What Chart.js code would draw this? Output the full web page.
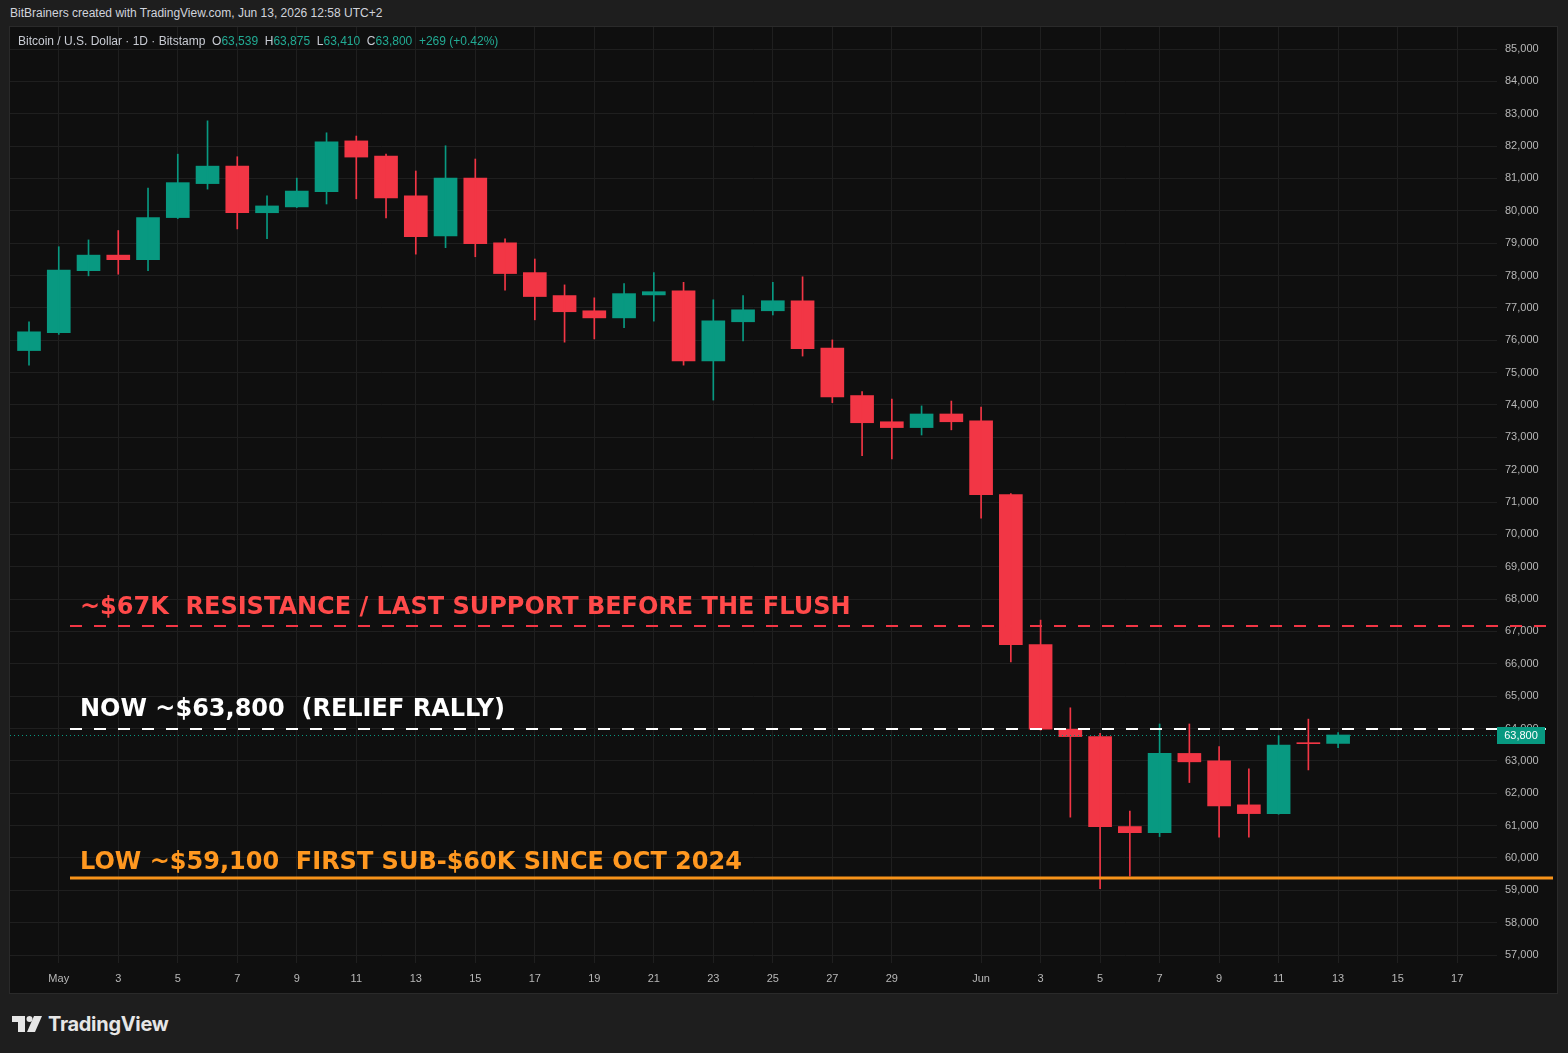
<!DOCTYPE html>
<html>
<head>
<meta charset="utf-8">
<title>BTC/USD 1D</title>
<script src="https://cdn.jsdelivr.net/npm/chart.js@4.4.1/dist/chart.umd.min.js"></script>
<style>
  html, body { margin: 0; padding: 0; background: #1e1e1e; }
  body { width: 1568px; height: 1053px; position: relative; overflow: hidden; font-family: "Liberation Sans", Arial, sans-serif; }
  #credit { position: absolute; left: 10px; top: 6px; font-size: 12px; color: #d1d4dc; white-space: pre; }
  #panel { position: absolute; left: 10px; top: 27px; width: 1547px; height: 966px; background: #0f0f0f; box-shadow: 0 0 0 1px #2a2a2a; }
  #legend { position: absolute; left: 18px; top: 34px; font-size: 12px; color: #c9ccd4; white-space: pre; }
  #legend .v { color: #22ab94; }
  #logo { position: absolute; left: 12px; top: 1012px; display: flex; align-items: center; gap: 6px; color: #e6e6e6; font-family: Inter, sans-serif; font-weight: 700; font-size: 20px; letter-spacing: -0.3px; }
</style>
</head>
<body>
<div id="credit">BitBrainers created with TradingView.com, Jun 13, 2026 12:58 UTC+2</div>
<div id="panel"><canvas id="chart" width="1547" height="966"></canvas></div>
<div id="legend">Bitcoin / U.S. Dollar · 1D · Bitstamp  O<span class="v">63,539</span>  H<span class="v">63,875</span>  L<span class="v">63,410</span>  C<span class="v">63,800</span>  <span class="v">+269 (+0.42%)</span></div>
<div id="logo">
  <svg width="30" height="16" viewBox="0 0 30 16"><path d="M0 0H13V16H6V6H0Z" fill="#e6e6e6"/><circle cx="17.5" cy="3" r="3" fill="#e6e6e6"/><path d="M22 0H30L23 16H15Z" fill="#e6e6e6"/></svg>
  <span>TradingView</span>
</div>
<script>
// daily candles, Apr 30 -> Jun 13
const dates = ['Apr 30','May 1','May 2','May 3','May 4','May 5','May 6','May 7','May 8','May 9',
  'May 10','May 11','May 12','May 13','May 14','May 15','May 16','May 17','May 18','May 19',
  'May 20','May 21','May 22','May 23','May 24','May 25','May 26','May 27','May 28','May 29',
  'May 30','May 31','Jun 1','Jun 2','Jun 3','Jun 4','Jun 5','Jun 6','Jun 7','Jun 8',
  'Jun 9','Jun 10','Jun 11','Jun 12','Jun 13'];
const opens = [75680, 76230, 78150, 78630, 78490, 79790, 80840, 81380, 79940, 80120,
  80590, 82160, 81690, 80460, 79220, 81010, 79010, 78090, 77380, 76910,
  76690, 77400, 77530, 75360, 76570, 76910, 77220, 75760, 74290, 73480,
  73300, 73720, 73510, 71230, 66590, 63980, 63750, 60970, 60780, 63230,
  63000, 61640, 61370, 63560, 63539];
const highs = [76570, 78890, 79100, 79390, 80700, 81750, 82780, 81670, 80460, 81010,
  82410, 82310, 81750, 81230, 82010, 81600, 79130, 78510, 77710, 77310,
  77750, 78090, 77790, 77250, 77380, 77790, 77960, 76010, 74410, 74180,
  73970, 74120, 73930, 71260, 67350, 64640, 63850, 61450, 64140, 64140,
  63440, 62750, 63780, 64290, 63875];
const lows = [75230, 76180, 77990, 78040, 78150, 79760, 80670, 79440, 79140, 80100,
  80210, 80370, 79780, 78660, 78860, 78580, 77550, 76630, 75940, 76040,
  76390, 76590, 75230, 74150, 75980, 76780, 75510, 74070, 72430, 72330,
  73070, 73230, 70500, 66060, 63950, 61260, 59050, 59440, 60660, 62330,
  60640, 60640, 61350, 62720, 63410];
const closes = [76260, 78170, 78630, 78490, 79790, 80870, 81380, 79940, 80150, 80610,
  82130, 81660, 80400, 79200, 81010, 78980, 78060, 77350, 76880, 76690,
  77440, 77500, 75360, 76600, 76940, 77220, 75740, 74250, 73450, 73300,
  73720, 73480, 71230, 66590, 63980, 63750, 60970, 60780, 63230, 62970,
  61610, 61370, 63490, 63531, 63800];

// time axis: day offset from Apr 30 and its label
const tickDays = [1, 3, 5, 7, 9, 11, 13, 15, 17, 19, 21, 23, 25, 27, 29, 32, 34, 36, 38, 40, 42, 44, 46, 48];
const tickLabels = ['May','3','5','7','9','11','13','15','17','19','21','23','25','27','29',
  'Jun','3','5','7','9','11','13','15','17'];
// price axis ticks
const priceTicks = [57000, 58000, 59000, 60000, 61000, 62000, 63000, 64000, 65000, 66000,
  67000, 68000, 69000, 70000, 71000, 72000, 73000, 74000, 75000, 76000,
  77000, 78000, 79000, 80000, 81000, 82000, 83000, 84000, 85000];

// drawn levels
const levelValues = [67180, 64000, 59370];
const levelTexts = ['~$67K  RESISTANCE / LAST SUPPORT BEFORE THE FLUSH',
  'NOW ~$63,800  (RELIEF RALLY)',
  'LOW ~$59,100  FIRST SUB-$60K SINCE OCT 2024'];
const lastPrice = 63800;

const UP = '#089981', DOWN = '#f23645';
const candleColors = opens.map((o, i) => closes[i] >= o ? UP : DOWN);

const levelStyle = [
  { color: '#f23645', text: '#ff4a4a', dash: [12, 12], width: 2, end: 9, lift: 18 },
  { color: '#ffffff', text: '#ffffff', dash: [12, 12], width: 2, end: 9, lift: 19 },
  { color: '#f7931a', text: '#ff9820', dash: [], width: 3, end: 4, lift: 15 }
];

const overlay = {
  id: 'overlay',
  afterDatasetsDraw(chart) {
    const { ctx, chartArea: a, scales: { y } } = chart;
    ctx.save();
    // last price dotted line
    const py = Math.round(y.getPixelForValue(lastPrice)) + 0.5;
    ctx.strokeStyle = UP;
    ctx.lineWidth = 1;
    ctx.setLineDash([1, 3]);
    ctx.beginPath(); ctx.moveTo(a.left, py); ctx.lineTo(a.right, py); ctx.stroke();

    levelValues.forEach((v, i) => {
      const s = levelStyle[i];
      const ly = Math.round(y.getPixelForValue(v));
      ctx.strokeStyle = s.color;
      ctx.lineWidth = s.width;
      ctx.setLineDash(s.dash);
      ctx.beginPath(); ctx.moveTo(a.left + 60, ly); ctx.lineTo(chart.width - s.end, ly); ctx.stroke();
      ctx.setLineDash([]);
      ctx.fillStyle = s.text;
      ctx.font = 'bold 24px "DejaVu Sans"';
      ctx.textBaseline = 'middle';
      ctx.fillText(levelTexts[i], a.left + 70, ly - s.lift);
    });
    ctx.restore();
  },
  afterDraw(chart) {
    const { ctx, chartArea: a, scales: { y } } = chart;
    const py = Math.round(y.getPixelForValue(lastPrice));
    ctx.save();
    ctx.fillStyle = UP;
    ctx.fillRect(a.right, py - 8, 48, 17);
    ctx.fillStyle = '#ffffff';
    ctx.font = '11px "Liberation Sans"';
    ctx.textBaseline = 'middle';
    ctx.textAlign = 'center';
    ctx.fillText(lastPrice.toLocaleString('en-US'), a.right + 24, py + 1);
    ctx.restore();
  }
};

new Chart(document.getElementById('chart'), {
  type: 'bar',
  data: {
    datasets: [
      {
        label: 'wick',
        data: dates.map((d, i) => ({ x: i, y: [lows[i], highs[i]] })),
        backgroundColor: candleColors,
        barThickness: 1,
        grouped: false
      },
      {
        label: 'body',
        data: dates.map((d, i) => ({ x: i, y: [Math.min(opens[i], closes[i]), Math.max(opens[i], closes[i])] })),
        backgroundColor: candleColors,
        barThickness: 23,
        minBarLength: 1,
        grouped: false
      }
    ]
  },
  options: {
    responsive: false,
    animation: false,
    layout: { padding: 0 },
    plugins: { legend: { display: false }, tooltip: { enabled: false } },
    scales: {
      x: {
        type: 'linear',
        offset: false,
        min: -0.639,
        max: 49.34,
        afterBuildTicks: s => { s.ticks = tickDays.map(v => ({ value: v })); },
        afterFit: s => { s.height = 30; s.paddingLeft = 0; s.paddingRight = 0; },
        grid: { color: '#1f1f1f', drawTicks: false, offset: false },
        border: { display: false },
        ticks: {
          autoSkip: false,
          maxRotation: 0,
          padding: 9,
          color: '#b8b8b8',
          font: { family: 'Liberation Sans', size: 11 },
          callback: (v, i) => tickLabels[i]
        }
      },
      y: {
        position: 'right',
        min: 56753,
        max: 85680,
        afterBuildTicks: s => { s.ticks = priceTicks.map(v => ({ value: v })); },
        afterFit: s => { s.width = 60; s.paddingTop = 0; s.paddingBottom = 0; },
        grid: { color: '#1f1f1f', drawTicks: false },
        border: { display: false },
        ticks: {
          padding: 8,
          color: '#b8b8b8',
          font: { family: 'Liberation Sans', size: 11 },
          callback: v => v.toLocaleString('en-US')
        }
      }
    }
  },
  plugins: [overlay]
});
</script>
</body>
</html>
